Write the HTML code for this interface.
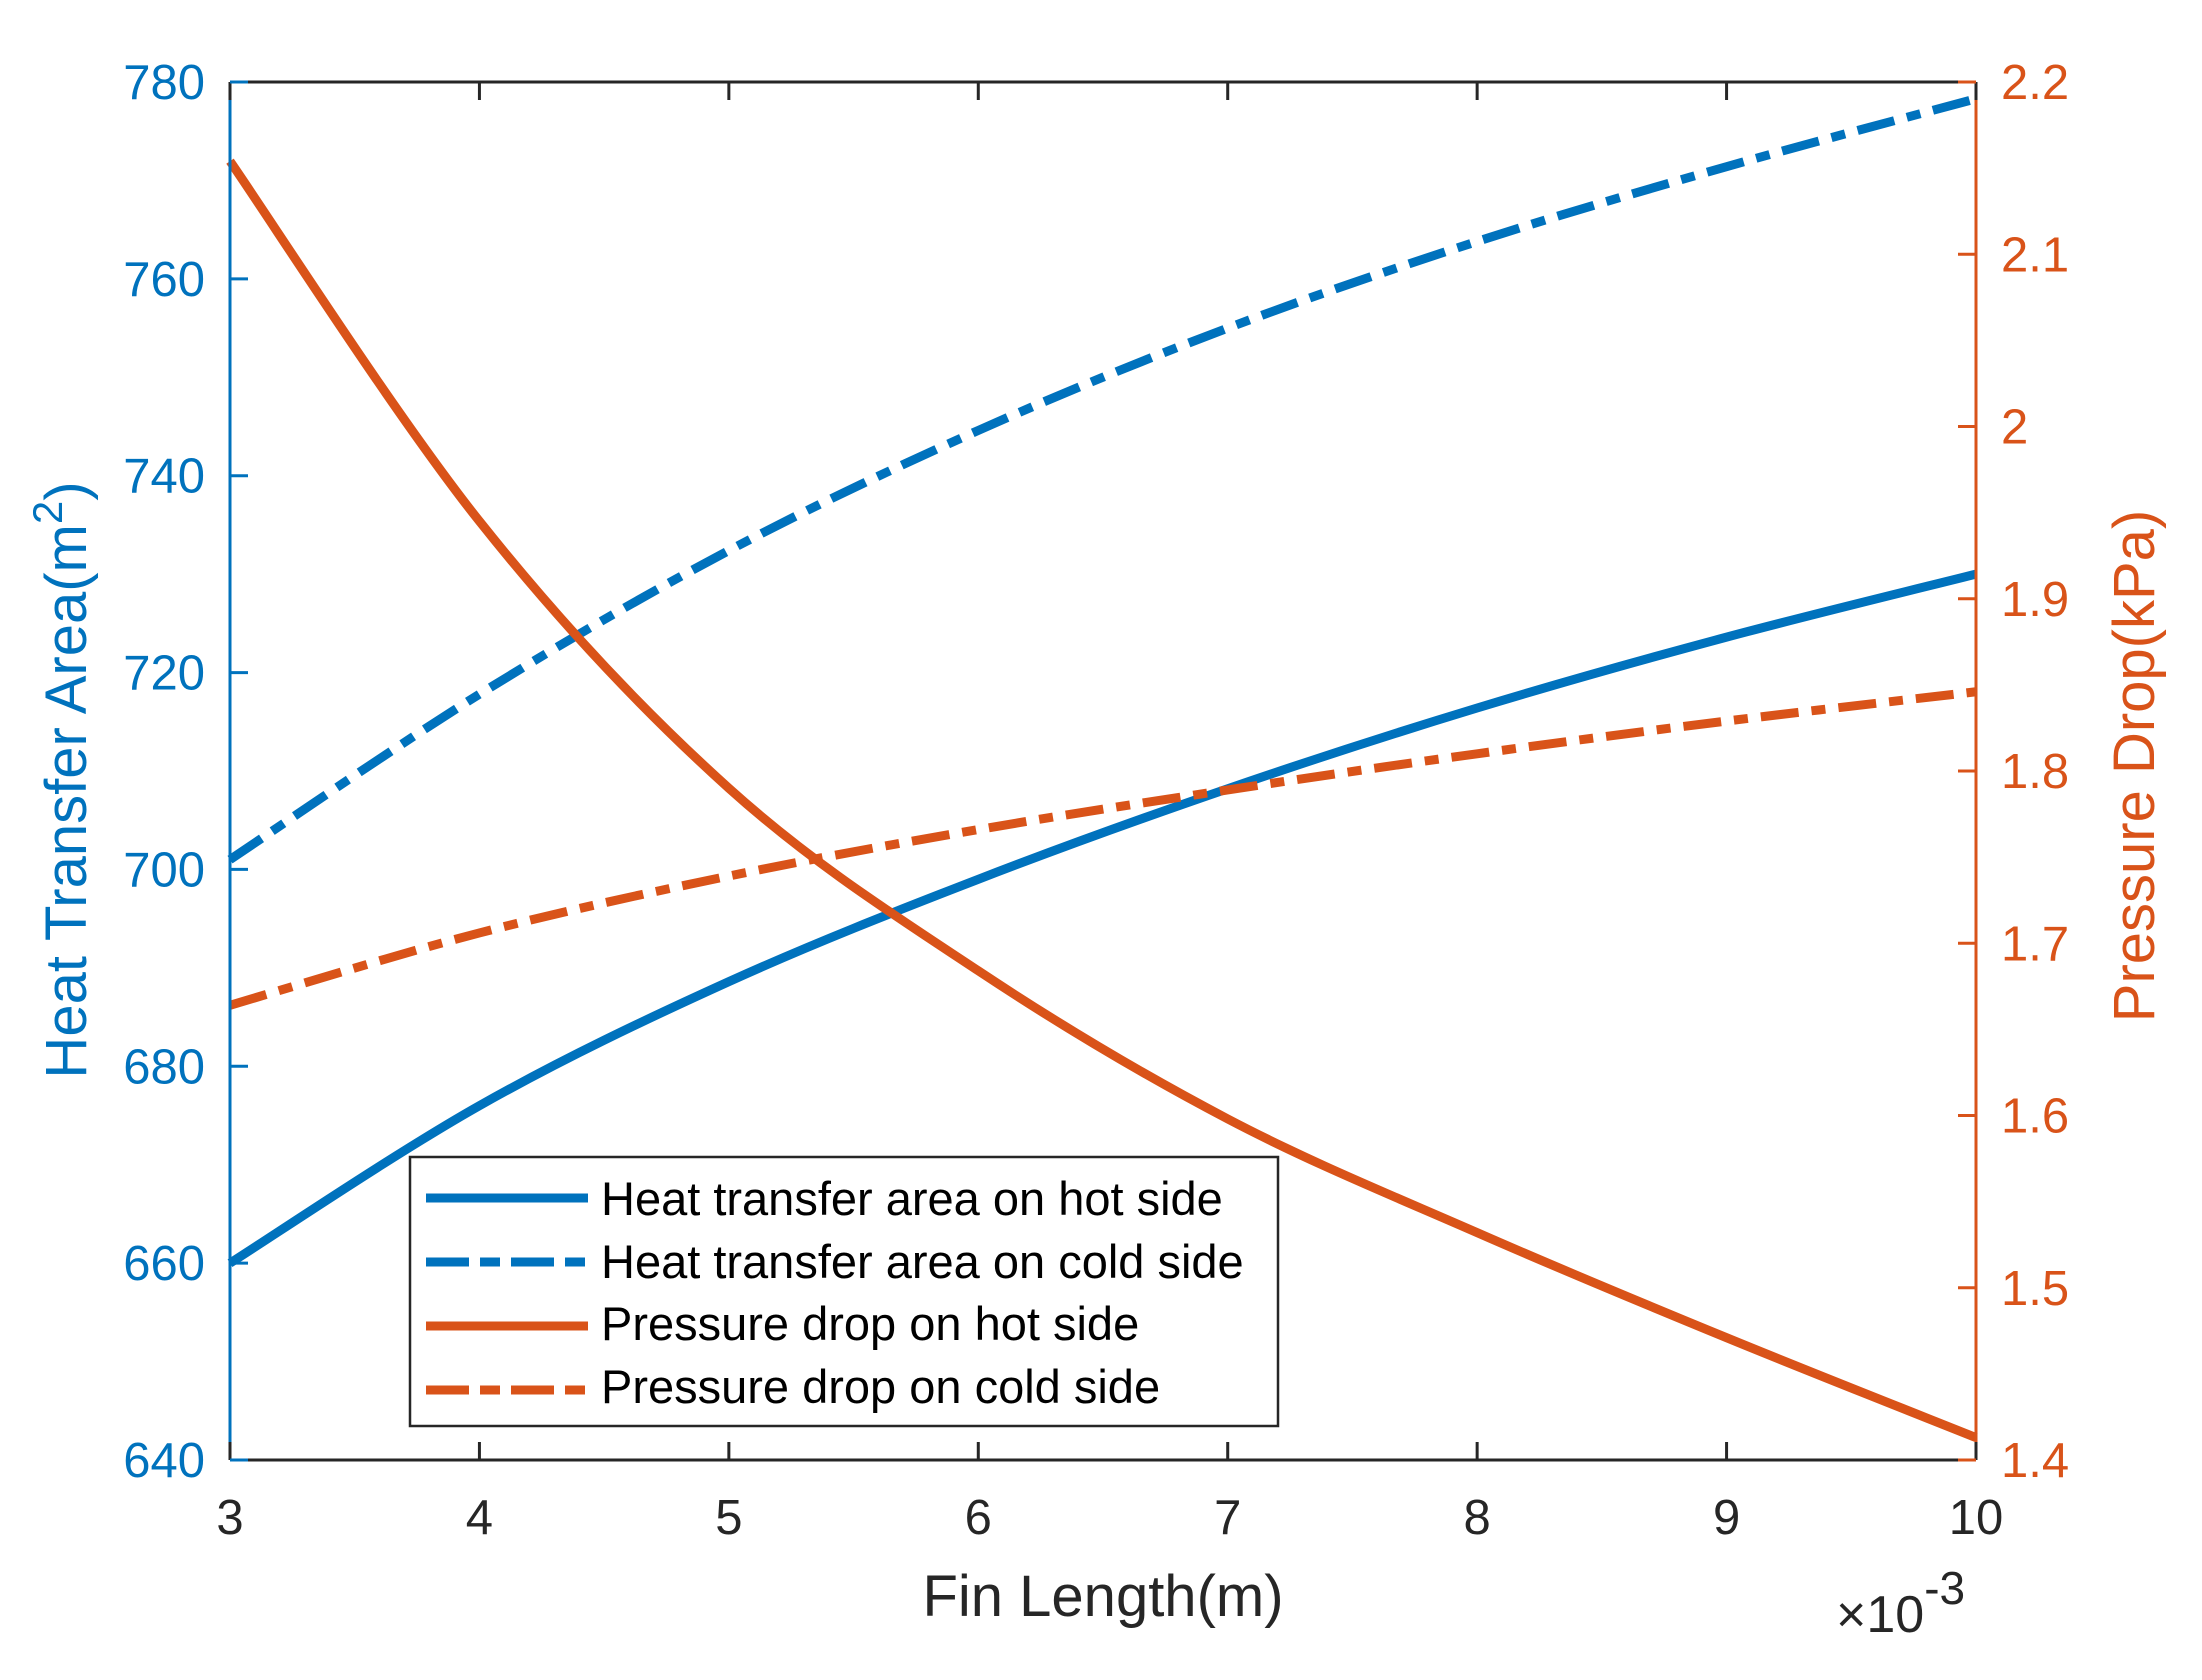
<!DOCTYPE html>
<html><head><meta charset="utf-8"><style>
html,body{margin:0;padding:0;background:#fff}
svg{display:block}
text{font-family:"Liberation Sans",Arial,sans-serif}
</style></head><body>
<svg id="chart" width="2202" height="1680" viewBox="0 0 2202 1680">
<g id="grid"></g>
<g id="series"></g>
<g id="axes"></g>
<g id="legend"></g>
</svg>
<script>
const xValues=[3,4,5,6,7,8,9,10];
const hotArea=[660,676,688.6,699,708.2,716.4,723.6,730];
const coldArea=[701,717.8,732.4,744.6,755,763.8,771.4,778.3];
const hotPressure=[2.154,1.945,1.79,1.684,1.598,1.532,1.471,1.413];
const coldPressure=[1.664,1.706,1.739,1.766,1.789,1.81,1.829,1.846];
const xTicks=[3,4,5,6,7,8,9,10];
const leftTicks=[640,660,680,700,720,740,760,780];
const rightTicks=[1.4,1.5,1.6,1.7,1.8,1.9,2,2.1,2.2];
const rightTickLabels=["1.4","1.5","1.6","1.7","1.8","1.9","2","2.1","2.2"];

const L=230,R=1976,T=82,B=1460;
const BLUE="#0072BD",ORANGE="#D95319",DARK="#262626";
const NS="http://www.w3.org/2000/svg";
const xS=v=>L+(v-3)/7*(R-L);
const yL=v=>B-(v-640)/140*(B-T);
const yR=v=>B-(v-1.4)/0.8*(B-T);
function mk(tag,attrs,parent){const e=document.createElementNS(NS,tag);for(const k in attrs)e.setAttribute(k,attrs[k]);parent.appendChild(e);return e;}
function smooth(pts){let d=`M${pts[0][0]},${pts[0][1]}`;for(let i=0;i<pts.length-1;i++){const p0=pts[Math.max(0,i-1)],p1=pts[i],p2=pts[i+1],p3=pts[Math.min(pts.length-1,i+2)];const c1=[p1[0]+(p2[0]-p0[0])/6,p1[1]+(p2[1]-p0[1])/6];const c2=[p2[0]-(p3[0]-p1[0])/6,p2[1]-(p3[1]-p1[1])/6];d+=` C${c1[0]},${c1[1]} ${c2[0]},${c2[1]} ${p2[0]},${p2[1]}`;}return d;}
const DASH="38 13 14 13";
const series=document.getElementById('series');
const defs=[[hotArea,yL,BLUE,null,'hot-area-line'],[coldArea,yL,BLUE,DASH,'cold-area-line'],[hotPressure,yR,ORANGE,null,'hot-pressure-line'],[coldPressure,yR,ORANGE,DASH,'cold-pressure-line']];
defs.forEach(s=>{const pts=xValues.map((x,i)=>[xS(x),s[1](s[0][i])]);const p=mk('path',{d:smooth(pts),fill:'none',stroke:s[2],'stroke-width':9},series);if(s[3])p.setAttribute('stroke-dasharray',s[3]);

});

const axes=document.getElementById('axes');
mk('line',{x1:L,y1:T,x2:R,y2:T,stroke:DARK,'stroke-width':3},axes);
mk('line',{x1:L,y1:B,x2:R,y2:B,stroke:DARK,'stroke-width':3},axes);
const la=mk('line',{x1:L,y1:T,x2:L,y2:B,stroke:BLUE,'stroke-width':3},axes);

const ra=mk('line',{x1:R,y1:T,x2:R,y2:B,stroke:ORANGE,'stroke-width':3},axes);

xTicks.forEach(v=>{const x=xS(v);mk('line',{x1:x,y1:B,x2:x,y2:B-18,stroke:DARK,'stroke-width':3},axes);mk('line',{x1:x,y1:T,x2:x,y2:T+18,stroke:DARK,'stroke-width':3},axes);
const t=mk('text',{x:x,y:1534,'font-size':49,fill:DARK,'text-anchor':'middle'},axes);t.textContent=v;

});
leftTicks.forEach(v=>{const y=yL(v);mk('line',{x1:L,y1:y,x2:L+18,y2:y,stroke:BLUE,'stroke-width':3},axes);
const t=mk('text',{x:205,y:y+17,'font-size':49,fill:BLUE,'text-anchor':'end'},axes);t.textContent=v;

});
rightTicks.forEach((v,i)=>{const y=yR(v);mk('line',{x1:R,y1:y,x2:R-18,y2:y,stroke:ORANGE,'stroke-width':3},axes);
const t=mk('text',{x:2001,y:y+17,'font-size':49,fill:ORANGE,'text-anchor':'start'},axes);t.textContent=rightTickLabels[i];

});
</script>
<svg style="position:absolute;left:0;top:0" width="2202" height="1680">
<text x="1103" y="1616" font-size="58" fill="#262626" text-anchor="middle" font-family="Liberation Sans,sans-serif">Fin Length(m)</text>
<text x="1836" y="1632" font-size="52" fill="#262626" font-family="Liberation Sans,sans-serif">×10<tspan dy="-28" font-size="46">-3</tspan></text>
<text transform="translate(86,780) rotate(-90)" font-size="58" fill="#0072BD" text-anchor="middle" font-family="Liberation Sans,sans-serif">Heat Transfer Area(m<tspan dy="-24" font-size="42">2</tspan><tspan dy="24">)</tspan></text>
<text transform="translate(2154,766) rotate(-90)" font-size="58" fill="#D95319" text-anchor="middle" font-family="Liberation Sans,sans-serif">Pressure Drop(kPa)</text>
<g>
<rect x="410" y="1157" width="868" height="269" fill="#fff" stroke="#262626" stroke-width="2.5"/>
<line x1="426" y1="1198" x2="588" y2="1198" stroke="#0072BD" stroke-width="9"/>
<line x1="426" y1="1262" x2="588" y2="1262" stroke="#0072BD" stroke-width="9" stroke-dasharray="43 11 20 11"/>
<line x1="426" y1="1326" x2="588" y2="1326" stroke="#D95319" stroke-width="9"/>
<line x1="426" y1="1390" x2="588" y2="1390" stroke="#D95319" stroke-width="9" stroke-dasharray="43 11 20 11"/>
<g font-size="47" fill="#000" font-family="Liberation Sans,sans-serif">
<text x="601" y="1215">Heat transfer area on hot side</text>
<text x="601" y="1278">Heat transfer area on cold side</text>
<text x="601" y="1340">Pressure drop on hot side</text>
<text x="601" y="1403">Pressure drop on cold side</text>
</g></g>
</svg>
</body></html>
